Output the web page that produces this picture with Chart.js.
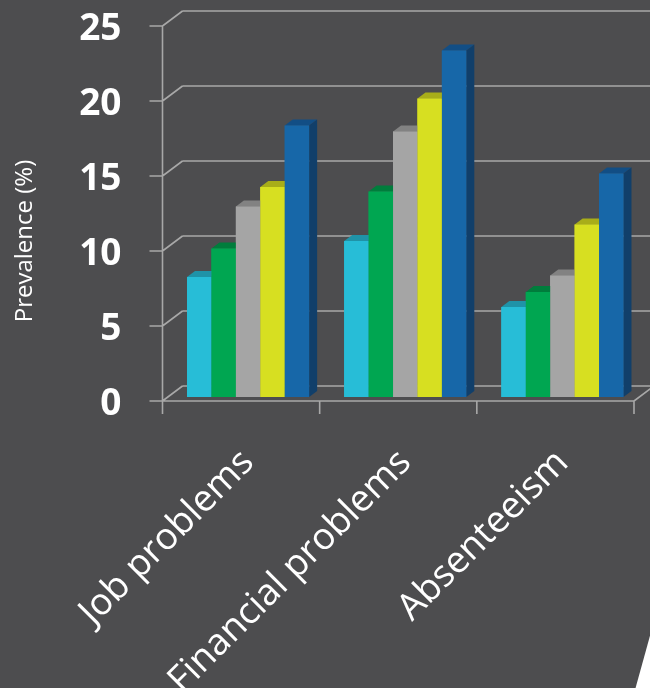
<!DOCTYPE html>
<html>
<head>
<meta charset="utf-8">
<script src="https://cdn.jsdelivr.net/npm/chart.js@4.4.1/dist/chart.umd.min.js"></script>
<style>
  html, body { margin: 0; padding: 0; background: #4d4d4f; }
  #wrap { width: 650px; height: 688px; position: relative; }
</style>
</head>
<body>
<div id="wrap"><canvas id="chart"></canvas></div>
<script>
// chart data
const categories = ["Job problems", "Financial problems", "Absenteeism"];
const series1 = [8.0, 10.4, 6.0];
const series2 = [9.9, 13.7, 7.0];
const series3 = [12.7, 17.7, 8.1];
const series4 = [14.0, 19.9, 11.5];
const series5 = [18.1, 23.1, 14.9];
const yTicks = [0, 5, 10, 15, 20, 25];
const yTitle = "Prevalence (%)";

// front / top / side colours of each series
const frontColors = ["#27bdd7", "#00a651", "#a5a5a5", "#d7df21", "#1767a8"];
const topColors = ["#1f93a8", "#007d3c", "#828282", "#a8ad19", "#124e85"];
const sideColors = ["#1a7f92", "#006a33", "#707070", "#8f9315", "#113f6a"];

const gridColor = "#a8a8a8";

// fake 3d: bar depth and the offset of the wall / front plane
const depthX = 8, depthY = 6;
const frontDX = -7, frontDY = 4;
const backDX = 13, backDY = -11;

function noPadding(axis) {
  axis.paddingTop = 0;
  axis.paddingBottom = 0;
  axis.paddingLeft = 0;
  axis.paddingRight = 0;
}

const grid3d = {
  id: "grid3d",
  beforeDatasetsDraw(chart) {
    const ctx = chart.ctx;
    const y = chart.scales.y;
    const x = chart.scales.x;
    const area = chart.chartArea;
    const fL = area.left + frontDX;
    const bL = area.left + backDX;
    ctx.save();
    ctx.strokeStyle = gridColor;
    ctx.lineWidth = 1.6;
    ctx.beginPath();
    yTicks.forEach((v) => {
      const py = y.getPixelForValue(v);
      // back wall line
      ctx.moveTo(bL, py + backDY);
      ctx.lineTo(chart.width, py + backDY);
      // side wall diagonal
      ctx.moveTo(fL, py + frontDY);
      ctx.lineTo(bL, py + backDY);
      // tick mark
      ctx.moveTo(fL - 13, py + frontDY);
      ctx.lineTo(fL, py + frontDY);
    });
    const p0 = y.getPixelForValue(0) + frontDY;
    const pTop = y.getPixelForValue(yTicks[yTicks.length - 1]) + frontDY;
    // front vertical axis
    ctx.moveTo(fL, pTop);
    ctx.lineTo(fL, p0 + 13);
    // floor front edge
    const fR = area.right + frontDX;
    ctx.moveTo(fL, p0);
    ctx.lineTo(fR, p0);
    ctx.moveTo(fR, p0);
    ctx.lineTo(area.right + backDX, y.getPixelForValue(0) + backDY);
    // category ticks
    for (let i = 1; i <= categories.length; i++) {
      const cx = (i < categories.length
        ? (x.getPixelForValue(i - 1) + x.getPixelForValue(i)) / 2
        : area.right) + frontDX;
      ctx.moveTo(cx, p0);
      ctx.lineTo(cx, p0 + 13);
    }
    ctx.stroke();
    ctx.restore();
  },
  afterDatasetsDraw(chart) {
    const ctx = chart.ctx;
    const n = chart.data.datasets.length;
    const count = chart.data.labels.length;
    ctx.save();
    for (let c = 0; c < count; c++) {
      for (let d = 0; d < n; d++) {
        const bar = chart.getDatasetMeta(d).data[c];
        const l = bar.x - bar.width / 2;
        const r = bar.x + bar.width / 2;
        const t = bar.y;
        const b = bar.base;
        // top face
        ctx.fillStyle = topColors[d];
        ctx.beginPath();
        ctx.moveTo(l, t);
        ctx.lineTo(l + depthX, t - depthY);
        ctx.lineTo(r + depthX, t - depthY);
        ctx.lineTo(r, t);
        ctx.closePath();
        ctx.fill();
        // side face
        ctx.fillStyle = sideColors[d];
        ctx.beginPath();
        ctx.moveTo(r, t);
        ctx.lineTo(r + depthX, t - depthY);
        ctx.lineTo(r + depthX, b - depthY);
        ctx.lineTo(r, b);
        ctx.closePath();
        ctx.fill();
        // front face again, over the side of the bar before it
        ctx.fillStyle = frontColors[d];
        ctx.fillRect(l, t, r - l, b - t);
      }
    }
    ctx.restore();
  },
  afterDraw(chart) {
    const ctx = chart.ctx;
    ctx.save();
    // y axis title
    ctx.fillStyle = "#ffffff";
    ctx.font = "24px 'Open Sans'";
    ctx.textAlign = "center";
    ctx.textBaseline = "middle";
    ctx.translate(25, 241);
    ctx.rotate(-Math.PI / 2);
    ctx.fillText(yTitle, 0, 0);
    ctx.restore();
    // white slide stripe, bottom right
    ctx.save();
    ctx.fillStyle = "#ffffff";
    ctx.beginPath();
    ctx.moveTo(651, 632);
    ctx.lineTo(651, 690);
    ctx.lineTo(635, 690);
    ctx.closePath();
    ctx.fill();
    ctx.restore();
  },
};

const ctx = document.getElementById("chart").getContext("2d");
new Chart(ctx, {
  type: "bar",
  data: {
    labels: categories,
    datasets: [series1, series2, series3, series4, series5].map((s, i) => ({
      data: s,
      backgroundColor: frontColors[i],
      borderWidth: 0,
      barPercentage: 1,
      categoryPercentage: 0.777,
    })),
  },
  options: {
    responsive: true,
    maintainAspectRatio: false,
    animation: false,
    layout: { padding: { top: 22, right: 9, left: 0, bottom: 0 } },
    plugins: {
      legend: { display: false },
      tooltip: { enabled: false },
    },
    scales: {
      x: {
        grid: { display: false },
        border: { display: false },
        afterFit: (axis) => { axis.height = 291; noPadding(axis); },
        ticks: {
          color: "#ffffff",
          font: { family: "'Open Sans'", size: 37 },
          minRotation: 45,
          maxRotation: 45,
          autoSkip: false,
          padding: 36,
        },
      },
      y: {
        min: 0,
        max: 25,
        grid: { display: false, drawTicks: false },
        border: { display: false },
        afterFit: (axis) => { axis.width = 169.5; noPadding(axis); },
        ticks: {
          stepSize: 5,
          color: "#ffffff",
          font: { family: "'Open Sans'", size: 37, weight: "bold" },
          padding: 48,
          labelOffset: 7,
        },
      },
    },
  },
  plugins: [grid3d],
});
</script>
</body>
</html>
